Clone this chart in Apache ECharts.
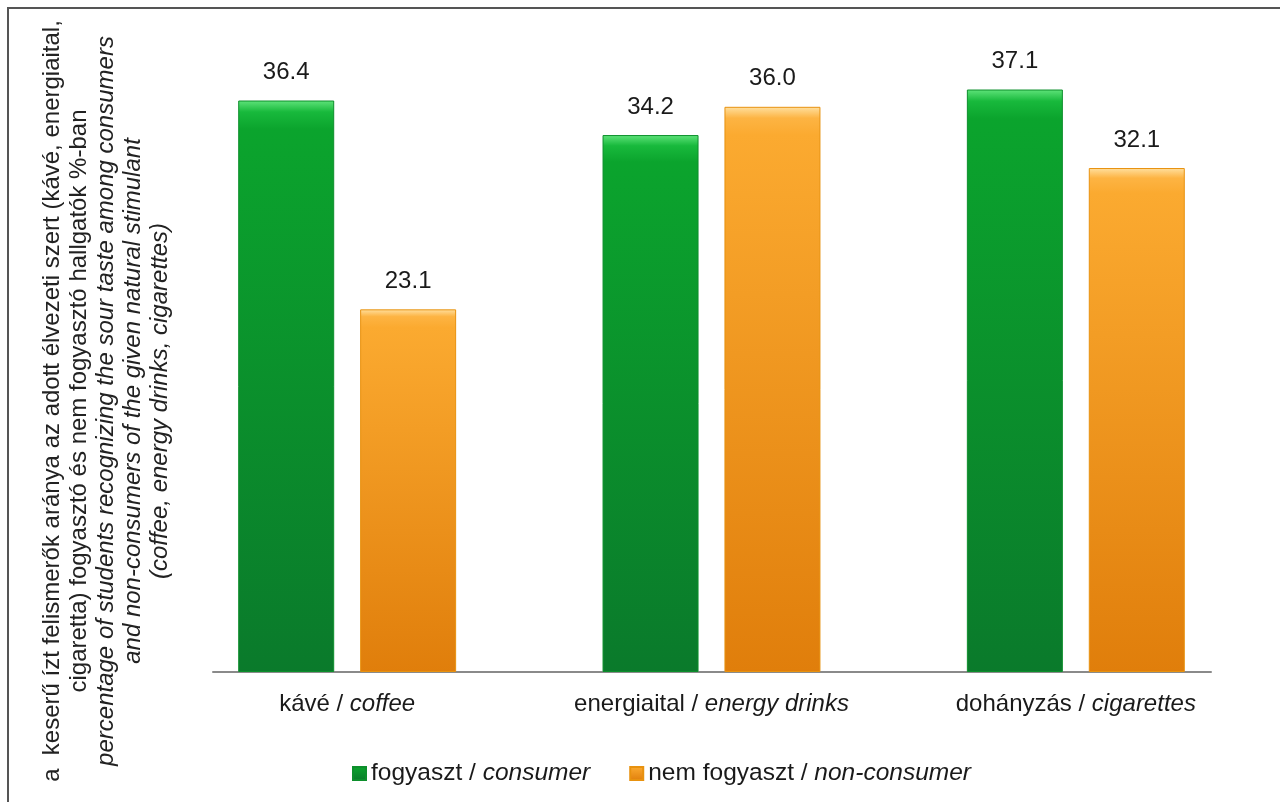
<!DOCTYPE html>
<html>
<head>
<meta charset="utf-8">
<script src="https://cdn.jsdelivr.net/npm/echarts@6/dist/echarts.min.js"></script>
<style>
  html, body { margin: 0; padding: 0; background: #fff; }
  #chart { width: 1280px; height: 802px; }
</style>
</head>
<body>
<div id="chart"></div>
<script>
// Categories (Hungarian / English)
const categoriesHu = ['kávé', 'energiaital', 'dohányzás'];
const categoriesEn = ['coffee', 'energy drinks', 'cigarettes'];

// Series names (Hungarian / English)
const seriesHu = ['fogyaszt', 'nem fogyaszt'];
const seriesEn = ['consumer', 'non-consumer'];

// Share of students recognising the taste, %
const consumerValues = [36.4, 34.2, 37.1];
const nonConsumerValues = [23.1, 36.0, 32.1];

// Axis title lines
const titleHu = [
  'a  keserű ízt felismerők aránya az adott élvezeti szert (kávé, energiaital,',
  'cigaretta) fogyasztó és nem fogyasztó hallgatók %-ban'
];
const titleEn = [
  'percentage of students recognizing the sour taste among consumers',
  'and non-consumers of the given natural stimulant',
  '(coffee, energy drinks, cigarettes)'
];

const FONT = '"Liberation Sans", Arial, Helvetica, sans-serif';

function bevel(light, top, mid, bottom) {
  return {
    type: 'linear', x: 0, y: 0, x2: 0, y2: 1,
    colorStops: [
      { offset: 0, color: light },
      { offset: 0.02, color: top },
      { offset: 0.05, color: mid },
      { offset: 1, color: bottom }
    ]
  };
}

const greenFill = bevel('#5fe37a', '#18b93c', '#0ba42d', '#0a7a2b');
const orangeFill = bevel('#ffe0a0', '#fdb443', '#fbaa30', '#e07e0b');

const chart = echarts.init(document.getElementById('chart'));

const nameRich = {
  n: { fontFamily: FONT, fontSize: 24, color: '#222', lineHeight: 27 },
  i: { fontFamily: FONT, fontSize: 24, color: '#222', lineHeight: 27, fontStyle: 'italic' }
};
const axisName = titleHu.map(t => '{n|' + t + '}')
  .concat(titleEn.map(t => '{i|' + t + '}'))
  .join('\n');

const labelStyle = {
  show: true,
  position: 'top',
  distance: 16,
  fontFamily: FONT,
  fontSize: 24,
  color: '#1a1a1a',
  formatter: p => p.value.toFixed(1)
};

const textRich = size => ({
  n: { fontFamily: FONT, fontSize: size, color: '#1a1a1a' },
  i: { fontFamily: FONT, fontSize: size, color: '#1a1a1a', fontStyle: 'italic' }
});

chart.setOption({
  backgroundColor: '#fff',
  animation: false,
  graphic: [{
    type: 'polyline',
    shape: { points: [[8, 802], [8, 8], [1280, 8]] },
    style: { stroke: '#555', lineWidth: 2, fill: null },
    silent: true
  }],
  grid: [
    { left: 165, right: 22, top: 44, bottom: 130 },
    { left: 213, right: 69, top: 44, bottom: 130 },
    { left: 180, right: 0, top: 0, bottom: 0 }
  ],
  legend: {
    left: 347,
    top: 756,
    itemWidth: 13,
    itemHeight: 13,
    itemGap: 39,
    icon: 'rect',
    data: seriesHu,
    formatter: name => {
      const k = seriesHu.indexOf(name);
      return '{n|' + name + ' / }{i|' + seriesEn[k] + '}';
    },
    textStyle: { rich: textRich(24.5) }
  },
  xAxis: [
    {
      type: 'category',
      gridIndex: 0,
      data: categoriesHu,
      axisLine: { show: false },
      axisTick: { show: false },
      axisLabel: {
        margin: 20,
        formatter: (v, idx) => '{n|' + v + ' / }{i|' + categoriesEn[idx] + '}',
        rich: textRich(24)
      }
    },
    {
      type: 'value',
      gridIndex: 1,
      min: 0, max: 1,
      axisLine: { show: true, lineStyle: { color: '#8a8a8a', width: 2 } },
      axisTick: { show: false },
      axisLabel: { show: false },
      splitLine: { show: false }
    },
    {
      type: 'value',
      gridIndex: 2,
      show: false
    }
  ],
  yAxis: [
    {
      type: 'value',
      gridIndex: 0,
      min: 0, max: 40,
      axisLine: { show: false },
      axisTick: { show: false },
      axisLabel: { show: false },
      splitLine: { show: false }
    },
    {
      type: 'value',
      gridIndex: 1,
      show: false
    },
    {
      type: 'value',
      gridIndex: 2,
      axisLine: { show: false },
      axisTick: { show: false },
      axisLabel: { show: false },
      splitLine: { show: false },
      name: axisName,
      nameLocation: 'middle',
      nameRotate: 90,
      nameGap: 6,
      nameTextStyle: { rich: nameRich, align: 'center' }
    }
  ],
  series: [
    {
      name: seriesHu[0],
      type: 'bar',
      xAxisIndex: 0, yAxisIndex: 0,
      data: consumerValues,
      barWidth: 96,
      barGap: '27%',
      itemStyle: { color: greenFill, borderColor: '#0d8f2c', borderWidth: 1 },
      label: labelStyle
    },
    {
      name: seriesHu[1],
      type: 'bar',
      xAxisIndex: 0, yAxisIndex: 0,
      data: nonConsumerValues,
      barWidth: 96,
      barGap: '27%',
      itemStyle: { color: orangeFill, borderColor: '#e8920f', borderWidth: 1 },
      label: labelStyle
    }
  ]
});
</script>
</body>
</html>
